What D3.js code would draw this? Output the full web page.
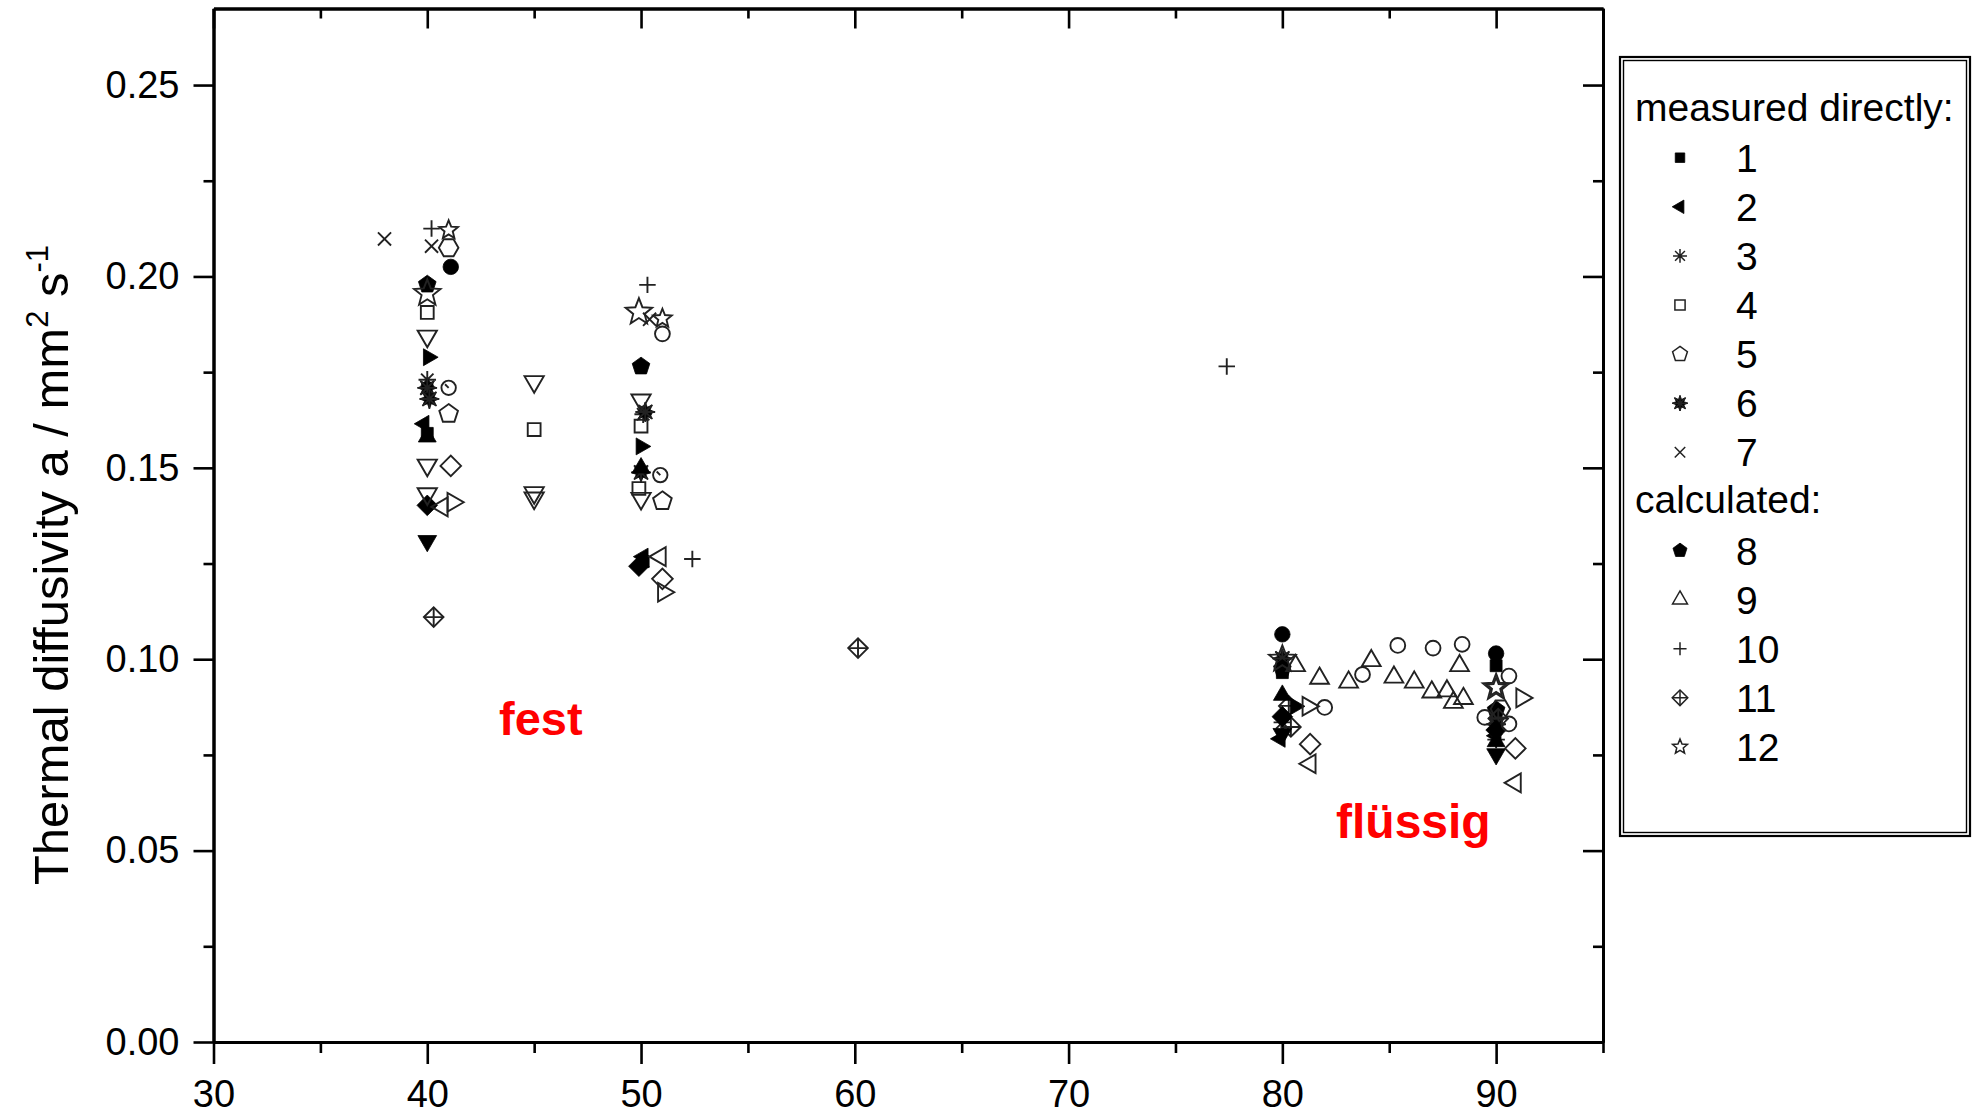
<!DOCTYPE html>
<html>
<head>
<meta charset="utf-8">
<script src="https://cdn.jsdelivr.net/npm/d3@7/dist/d3.min.js"></script>
<style>
  html, body { margin: 0; padding: 0; background: #fff; }
  svg { display: block; }
  text { font-family: "Liberation Sans", Arial, Helvetica, sans-serif; fill: #000; }
</style>
</head>
<body>
<svg id="chart" width="1980" height="1114"></svg>
<script>
// ---- tick labels ----
const xTicks = [30, 40, 50, 60, 70, 80, 90];
const xMinorTicks = [35, 45, 55, 65, 75, 85, 95];
const yTicks = [0.00, 0.05, 0.10, 0.15, 0.20, 0.25];
const yMinorTicks = [0.025, 0.075, 0.125, 0.175, 0.225];

// ---- legend groups ----
const legendMeasured = ["1", "2", "3", "4", "5", "6", "7"];
const legendCalculated = ["8", "9", "10", "11", "12"];

// ---- series values: [temperature °C, thermal diffusivity mm²/s] ----
const s1  = [[40.0, 0.1590], [50.1, 0.1255], [80.0, 0.0965], [90.0, 0.0983]];
const s2  = [[39.85, 0.1615], [50.1, 0.1268], [79.9, 0.0792], [90.0, 0.0800]];
const s3  = [[40.0, 0.1730], [50.1, 0.1640], [80.0, 0.0835], [90.0, 0.0790]];
const s4  = [[40.0, 0.1906], [45.0, 0.1600], [50.0, 0.1609], [49.9, 0.1446]];
const s5  = [[41.0, 0.1641], [51.0, 0.1413]];
const s6  = [[40.0, 0.1709], [40.1, 0.1680], [50.2, 0.1646], [50.0, 0.1488], [80.0, 0.1002], [90.0, 0.0830]];
const s7  = [[38.0, 0.2098], [40.2, 0.2079], [50.4, 0.1888]];
const s8  = [[40.0, 0.1979], [50.0, 0.1765], [80.0, 0.0975], [90.0, 0.0867]];
const s9  = [[80.62, 0.0983], [81.74, 0.0950], [83.10, 0.0940], [84.16, 0.0996], [85.22, 0.0953],
             [86.17, 0.0940], [86.99, 0.0914], [87.70, 0.0917], [88.29, 0.0983], [88.0, 0.0887], [88.47, 0.0897]];
const s10 = [[40.2, 0.2125], [50.3, 0.1978], [52.4, 0.1262], [77.4, 0.1765]];
const s11 = [[40.3, 0.1110], [60.15, 0.1029], [80.4, 0.0823], [80.3, 0.0878], [90.1, 0.0845]];
const s12 = [[41.0, 0.2121], [51.0, 0.1890], [90.0, 0.0926]];
// further groups plotted without a legend entry
const sFilledCircle   = [[41.1, 0.2025], [80.0, 0.1065], [90.0, 0.1015]];
const sFilledUp       = [[40.0, 0.1581], [50.0, 0.1500], [80.0, 0.0906], [90.0, 0.0785]];
const sFilledDown     = [[40.0, 0.1309], [80.0, 0.0805], [90.0, 0.0752]];
const sFilledRight    = [[40.05, 0.1789], [50.0, 0.1556], [80.6, 0.0877]];
const sFilledDiamond  = [[40.0, 0.1402], [49.9, 0.1243], [80.0, 0.0850], [90.0, 0.0815]];
const sOpenDown       = [[40.0, 0.1844], [40.0, 0.1507], [40.0, 0.1432], [45.0, 0.1725], [45.0, 0.1435],
                         [45.0, 0.1421], [50.0, 0.1677], [50.0, 0.1420]];
const sOpenRight      = [[41.2, 0.1410], [51.05, 0.1175], [81.2, 0.0877], [91.2, 0.0899]];
const sOpenLeft       = [[40.7, 0.1398], [50.9, 0.1268], [81.3, 0.0727], [90.9, 0.0677]];
const sOpenDiamond    = [[41.1, 0.1505], [51.0, 0.1210], [81.3, 0.0778], [90.9, 0.0767]];
const sOpenCircle     = [[51.0, 0.1850], [81.98, 0.0874], [83.75, 0.0960], [85.40, 0.1036], [87.05, 0.1029],
                         [88.41, 0.1039], [90.6, 0.0956], [89.47, 0.0848], [90.6, 0.0831]];
const sOpenHexagon    = [[41.0, 0.2075], [90.2, 0.0870]];
const sOpenDotCircle  = [[41.0, 0.1709], [50.9, 0.1481]];
const sBigStar        = [[40.0, 0.1956], [49.9, 0.1907], [80.0, 0.1000], [90.0, 0.0926]];

// series table: label, marker kind, points
const series = [
  { name: "1",  marker: "squareFilled",   pts: s1 },
  { name: "2",  marker: "leftFilled",     pts: s2 },
  { name: "3",  marker: "asterisk",       pts: s3 },
  { name: "4",  marker: "squareOpen",     pts: s4 },
  { name: "5",  marker: "pentagonOpen",   pts: s5 },
  { name: "6",  marker: "burst",          pts: s6 },
  { name: "7",  marker: "cross",          pts: s7 },
  { name: "8",  marker: "pentagonFilled", pts: s8 },
  { name: "9",  marker: "upOpen",         pts: s9 },
  { name: "10", marker: "plus",           pts: s10 },
  { name: "11", marker: "diamondPlus",    pts: s11 },
  { name: "12", marker: "starOpen",       pts: s12 },
  { name: null, marker: "circleFilled",   pts: sFilledCircle },
  { name: null, marker: "upFilled",       pts: sFilledUp },
  { name: null, marker: "downFilled",     pts: sFilledDown },
  { name: null, marker: "rightFilled",    pts: sFilledRight },
  { name: null, marker: "diamondFilled",  pts: sFilledDiamond },
  { name: null, marker: "downOpen",       pts: sOpenDown },
  { name: null, marker: "rightOpen",      pts: sOpenRight },
  { name: null, marker: "leftOpen",       pts: sOpenLeft },
  { name: null, marker: "diamondOpen",    pts: sOpenDiamond },
  { name: null, marker: "circleOpen",     pts: sOpenCircle },
  { name: null, marker: "hexagonOpen",    pts: sOpenHexagon },
  { name: null, marker: "dotCircleOpen",  pts: sOpenDotCircle },
  { name: null, marker: "bigStarOpen",    pts: sBigStar }
];

// ---- layout ----
const W = 1980, H = 1114;
const plot = { left: 213.5, right: 1603, top: 8.5, bottom: 1042 };
const x = d3.scaleLinear().domain([30, 95]).range([plot.left, plot.right]);
const y = d3.scaleLinear().domain([0, 0.27]).range([plot.bottom, plot.top]);

const svg = d3.select("#chart");
svg.append("rect").attr("width", W).attr("height", H).attr("fill", "#fff");

// ---- marker geometry ----
function poly(n, r, rotDeg) {
  const pts = [];
  for (let i = 0; i < n; i++) {
    const a = (rotDeg + i * 360 / n) * Math.PI / 180;
    pts.push([r * Math.cos(a), r * Math.sin(a)]);
  }
  return "M" + pts.map(p => p[0].toFixed(2) + "," + p[1].toFixed(2)).join("L") + "Z";
}
function starPath(points, rOut, rIn, rotDeg) {
  const pts = [];
  for (let i = 0; i < points * 2; i++) {
    const r = i % 2 === 0 ? rOut : rIn;
    const a = (rotDeg + i * 180 / points) * Math.PI / 180;
    pts.push([r * Math.cos(a), r * Math.sin(a)]);
  }
  return "M" + pts.map(p => p[0].toFixed(2) + "," + p[1].toFixed(2)).join("L") + "Z";
}
function spokes(n, r, rotDeg) {
  let d = "";
  for (let i = 0; i < n; i++) {
    const a = (rotDeg + i * 180 / n) * Math.PI / 180;
    const dx = r * Math.cos(a), dy = r * Math.sin(a);
    d += `M${(-dx).toFixed(2)},${(-dy).toFixed(2)}L${dx.toFixed(2)},${dy.toFixed(2)}`;
  }
  return d;
}
function circlePath(r) {
  return `M${r},0A${r},${r} 0 1,1 ${-r},0A${r},${r} 0 1,1 ${r},0Z`;
}

// returns list of [pathString, filled?]
function markerShapes(kind, k) {
  switch (kind) {
    case "squareFilled":   return [[poly(4, 8.2 * k, 45), true]];
    case "squareOpen":     return [[poly(4, 8.8 * k, 45), false]];
    case "leftFilled":     return [[poly(3, 9.5 * k, 180), true]];
    case "rightFilled":    return [[poly(3, 9.5 * k, 0), true]];
    case "upFilled":       return [[poly(3, 10 * k, -90), true]];
    case "downFilled":     return [[poly(3, 10.5 * k, 90), true]];
    case "upOpen":         return [[poly(3, 10.5 * k, -90), false]];
    case "downOpen":       return [[poly(3, 10.8 * k, 90), false]];
    case "leftOpen":       return [[poly(3, 10.5 * k, 180), false]];
    case "rightOpen":      return [[poly(3, 10.5 * k, 0), false]];
    case "diamondFilled":  return [[poly(4, 10 * k, 0), true]];
    case "diamondOpen":    return [[poly(4, 10 * k, 0), false]];
    case "pentagonOpen":   return [[poly(5, 9.5 * k, -90), false]];
    case "pentagonFilled": return [[poly(5, 9.0 * k, -90), true]];
    case "hexagonOpen":    return [[poly(6, 9.5 * k, 0), false]];
    case "circleFilled":   return [[circlePath(7.5 * k), true]];
    case "circleOpen":     return [[circlePath(7.2 * k), false]];
    case "dotCircleOpen":  return [[circlePath(7 * k), false], [`M0,0L${-3.5 * k},${-3.5 * k}`, false]];
    case "starOpen":       return [[starPath(5, 9.5 * k, 4.2 * k, -90), false]];
    case "bigStarOpen":    return [[starPath(5, 13.5 * k, 5.8 * k, -90), false]];
    case "plus":           return [[spokes(2, 8 * k, 0), false]];
    case "cross":          return [[spokes(2, 9 * k, 45), false]];
    case "asterisk":       return [[spokes(4, 8.5 * k, 0), false]];
    case "burst":          return [[starPath(8, 9.5 * k, 5 * k, 0), true], [spokes(4, 9.5 * k, 0), false]];
    case "diamondPlus":    return [[poly(4, 9.5 * k, 0), false], [spokes(2, 9.5 * k, 0), false]];
  }
  return [];
}

function drawMarker(g, kind, k, sw) {
  markerShapes(kind, k).forEach(([d, filled]) => {
    g.append("path")
      .attr("d", d)
      .attr("fill", filled ? "#000" : "none")
      .attr("stroke", filled ? "#000" : "#222")
      .attr("stroke-width", filled ? 0.8 : sw)
      .attr("stroke-linejoin", "miter");
  });
}

// ---- axes ----
function styleAxis(g) {
  g.selectAll(".domain").attr("stroke", "#000").attr("stroke-width", 3);
  g.selectAll(".tick line").attr("stroke", "#000").attr("stroke-width", 2.6);
  g.selectAll(".tick text").attr("font-size", 38).attr("font-family", '"Liberation Sans", Arial, sans-serif').attr("fill", "#000");
}

// bottom
svg.append("g").attr("transform", `translate(0,${plot.bottom})`)
  .call(d3.axisBottom(x).tickValues(xMinorTicks).tickSize(11).tickSizeOuter(0).tickFormat(""))
  .call(styleAxis);
svg.append("g").attr("transform", `translate(0,${plot.bottom})`)
  .call(d3.axisBottom(x).tickValues(xTicks).tickSize(22).tickSizeOuter(0).tickPadding(16).tickFormat(d3.format("d")))
  .call(styleAxis);
// top (inward)
svg.append("g").attr("transform", `translate(0,${plot.top})`)
  .call(d3.axisTop(x).tickValues(xMinorTicks).tickSize(-10).tickSizeOuter(0).tickFormat(""))
  .call(styleAxis);
svg.append("g").attr("transform", `translate(0,${plot.top})`)
  .call(d3.axisTop(x).tickValues(xTicks).tickSize(-20).tickSizeOuter(0).tickFormat(""))
  .call(styleAxis);
// left
svg.append("g").attr("transform", `translate(${plot.left},0)`)
  .call(d3.axisLeft(y).tickValues(yMinorTicks).tickSize(10).tickSizeOuter(0).tickFormat(""))
  .call(styleAxis);
svg.append("g").attr("transform", `translate(${plot.left},0)`)
  .call(d3.axisLeft(y).tickValues(yTicks).tickSize(20).tickSizeOuter(0).tickPadding(14).tickFormat(d3.format(".2f")))
  .call(styleAxis);
// right (inward)
svg.append("g").attr("transform", `translate(${plot.right},0)`)
  .call(d3.axisRight(y).tickValues(yMinorTicks).tickSize(-10).tickSizeOuter(0).tickFormat(""))
  .call(styleAxis);
svg.append("g").attr("transform", `translate(${plot.right},0)`)
  .call(d3.axisRight(y).tickValues(yTicks).tickSize(-20).tickSizeOuter(0).tickFormat(""))
  .call(styleAxis);

// ---- y-axis title ----
const yTitle = svg.append("text")
  .attr("transform", `translate(68,565) rotate(-90)`)
  .attr("text-anchor", "middle")
  .attr("font-size", 49);
yTitle.append("tspan").text("Thermal diffusivity a / mm");
yTitle.append("tspan").attr("font-size", 31).attr("dy", -20).text("2");
yTitle.append("tspan").attr("dy", 20).text(" s");
yTitle.append("tspan").attr("font-size", 31).attr("dy", -20).text("-1");

// ---- data markers ----
const marks = svg.append("g").attr("class", "marks");
series.forEach(s => {
  s.pts.forEach(([tx, ty]) => {
    const g = marks.append("g").attr("transform", `translate(${x(tx)},${y(ty)})`);
    drawMarker(g, s.marker, 1.03, 1.9);
  });
});

// ---- phase annotations ----
svg.append("text").attr("x", 499).attr("y", 735)
  .attr("font-size", 47).attr("font-weight", "bold").style("fill", "#ff0000").text("fest");
svg.append("text").attr("x", 1336).attr("y", 838)
  .attr("font-size", 48).attr("font-weight", "bold").style("fill", "#ff0000").text("flüssig");

// ---- legend ----
const lg = svg.append("g").attr("class", "legend");
lg.append("rect").attr("x", 1620).attr("y", 57).attr("width", 350).attr("height", 779)
  .attr("fill", "#fff").attr("stroke", "#000").attr("stroke-width", 2.2);
lg.append("rect").attr("x", 1623.5).attr("y", 60.5).attr("width", 343).attr("height", 772)
  .attr("fill", "none").attr("stroke", "#000").attr("stroke-width", 1.4);

const rowStep = 49.1;
const rowTop = 108.6;
const legendRows = [];
legendRows.push({ header: "measured directly:" });
legendMeasured.forEach(n => legendRows.push({ item: n }));
legendRows.push({ header: "calculated:" });
legendCalculated.forEach(n => legendRows.push({ item: n }));

legendRows.forEach((row, i) => {
  const cy = rowTop + i * rowStep;
  if (row.header) {
    lg.append("text").attr("x", 1635).attr("y", cy + 12).attr("font-size", 39).text(row.header);
  } else {
    const s = series.find(d => d.name === row.item);
    const g = lg.append("g").attr("transform", `translate(1680,${cy})`);
    drawMarker(g, s.marker, 0.82, 1.5);
    lg.append("text").attr("x", 1736).attr("y", cy + 14).attr("font-size", 39).text(row.item);
  }
});
</script>
</body>
</html>
